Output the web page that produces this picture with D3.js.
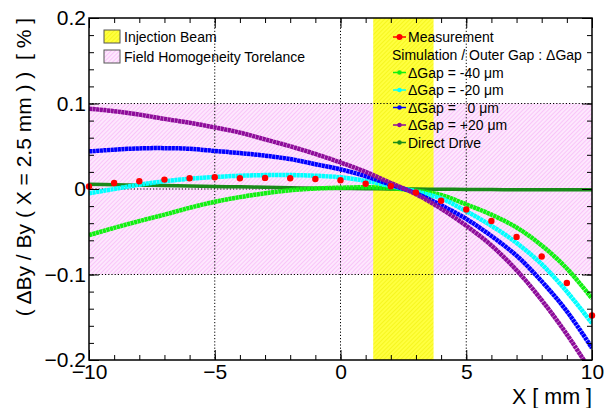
<!DOCTYPE html>
<html><head><meta charset="utf-8">
<script src="https://cdn.jsdelivr.net/npm/d3@7"></script>
<style>
html,body{margin:0;padding:0;background:#fff;}
svg{display:block;font-family:"Liberation Sans",Arial,Helvetica,sans-serif;}
text{white-space:pre;}
</style></head>
<body>
<script>
// ---- data ----
const xs = [-10,-9,-8,-7,-6,-5,-4,-3,-2,-1,0,1,2,3,4,5,6,7,8,9,10];
const measurement = [0.003,0.007,0.009,0.011,0.0125,0.0137,0.0125,0.013,0.0125,0.0117,0.0102,0.0062,0.0032,-0.004,-0.0137,-0.024,-0.0374,-0.056,-0.079,-0.110,-0.148];
const gapM40 = [-0.054,-0.0455,-0.0375,-0.030,-0.022,-0.015,-0.0095,-0.005,-0.0015,0.0005,0.0015,0.002,0.001,-0.002,-0.007,-0.018,-0.030,-0.045,-0.066,-0.093,-0.128];
const gapM20 = [-0.005,0.0,0.005,0.009,0.012,0.014,0.0155,0.0163,0.0163,0.0155,0.0137,0.0095,0.0035,-0.003,-0.011,-0.026,-0.043,-0.063,-0.088,-0.120,-0.157];
const gap0 = [0.044,0.046,0.0475,0.0478,0.047,0.0445,0.042,0.039,0.035,0.029,0.023,0.015,0.005,-0.005,-0.019,-0.035,-0.055,-0.078,-0.108,-0.143,-0.186];
const gapP20 = [0.094,0.091,0.087,0.082,0.0775,0.072,0.066,0.058,0.050,0.041,0.031,0.020,0.007,-0.006,-0.023,-0.043,-0.066,-0.095,-0.130,-0.170,-0.215];
const directDrive = [0.0055,0.005,0.0045,0.004,0.0035,0.003,0.0025,0.002,0.0015,0.001,0.0006,0.0003,0.0001,-0.0001,-0.0003,-0.0005,-0.0007,-0.0008,-0.0009,-0.001,-0.001];
const beamRange = [1.3, 3.7];
const toleranceRange = [-0.1, 0.1];
const xTicks = [-10,-5,0,5,10];
const xTickLabels = ["\u221210","\u22125","0","5","10"];
const yTicks = [0.2,0.1,0,-0.1,-0.2];
const yTickLabels = ["0.2","0.1","0","\u22120.1","\u22120.2"];
const seriesNames = ["\u0394Gap = -40 \u03bcm","\u0394Gap = -20 \u03bcm","\u0394Gap =   0 \u03bcm","\u0394Gap = +20 \u03bcm","Direct Drive"];
const seriesColors = ["#11f011","#00ffff","#0000ff","#8e0c9a","#1a8a1a"];

// ---- layout ----
const W=604,H=408, L=89, R=592, T=18, B=360;
const x = d3.scaleLinear().domain([-10,10]).range([L,R]);
const y = d3.scaleLinear().domain([-0.2,0.2]).range([B,T]);
const svg = d3.select("body").append("svg").attr("width",W).attr("height",H);
const defs = svg.append("defs");
const pPink = defs.append("pattern").attr("id","pink").attr("patternUnits","userSpaceOnUse").attr("width",3).attr("height",3).attr("patternTransform","rotate(45)");
pPink.append("rect").attr("width",3).attr("height",3).attr("fill","#fde8fd");
pPink.append("line").attr("x1",0).attr("y1",0).attr("x2",0).attr("y2",3).attr("stroke","#f5a0f5").attr("stroke-width",1);
const pY = defs.append("pattern").attr("id","yel").attr("patternUnits","userSpaceOnUse").attr("width",3).attr("height",3).attr("patternTransform","rotate(45)");
pY.append("rect").attr("width",3).attr("height",3).attr("fill","#ffff40");
pY.append("line").attr("x1",0).attr("y1",0).attr("x2",0).attr("y2",3).attr("stroke","#eeee00").attr("stroke-width",1);
defs.append("clipPath").attr("id","clip").append("rect").attr("x",L).attr("y",T).attr("width",R-L).attr("height",B-T);

// bands
svg.append("rect").attr("x",L).attr("width",R-L).attr("y",y(toleranceRange[1])).attr("height",y(toleranceRange[0])-y(toleranceRange[1])).attr("fill","url(#pink)");
svg.append("rect").attr("x",x(beamRange[0])).attr("width",x(beamRange[1])-x(beamRange[0])).attr("y",T).attr("height",B-T).attr("fill","url(#yel)");

// grid
const grid = svg.append("g").attr("stroke","#000").attr("stroke-width",1).attr("stroke-dasharray","1.2,2");
[-5,0,5].forEach(v=>grid.append("line").attr("x1",x(v)).attr("x2",x(v)).attr("y1",T).attr("y2",B));
[0.1,0,-0.1].forEach(v=>grid.append("line").attr("y1",y(v)).attr("y2",y(v)).attr("x1",L).attr("x2",R));

// curves
const plot = svg.append("g").attr("clip-path","url(#clip)");
const line = d3.line().x((d,i)=>x(xs[i])).y(d=>y(d)).curve(d3.curveCatmullRom);
const sims = [directDrive,gapM40,gapM20,gap0,gapP20];
const simCols = [seriesColors[4],seriesColors[0],seriesColors[1],seriesColors[2],seriesColors[3]];
const simW = [3.5,4.5,4.5,4.5,4.5];
sims.forEach((s,k)=>plot.append("path").attr("d",line(s)).attr("fill","none").attr("stroke",simCols[k]).attr("stroke-width",simW[k]).attr("stroke-dasharray",k===0?null:"3.2,0.4"));
svg.append("g").selectAll("circle").data(measurement).enter().append("circle").attr("cx",(d,i)=>x(xs[i])).attr("cy",d=>y(d)).attr("r",3.2).attr("fill","#ff0000");

// axes
function ax(gen, tr, vals, size, fmt, pad){
  const g = svg.append("g").attr("transform",tr).call(gen.tickValues(vals).tickSize(size).tickPadding(pad||4).tickFormat(fmt));
  g.select(".domain").remove();
  g.selectAll(".tick line").attr("stroke","#000").attr("stroke-width",1);
  return g;
}
const xMinor = d3.range(-10,11,1), yMinor = d3.range(-10,11,1).map(v=>v*0.02);
const gx = ax(d3.axisBottom(x),`translate(0,${B})`,xTicks,-10,(d,i)=>xTickLabels[i],4);
gx.selectAll("text").attr("font-size","21px").attr("fill","#000").attr("font-family","Liberation Sans, Arial, sans-serif").attr("dy","0.71em");
ax(d3.axisBottom(x),`translate(0,${B})`,xMinor,-5,()=>"");
ax(d3.axisTop(x),`translate(0,${T})`,xTicks,-10,()=>"");
ax(d3.axisTop(x),`translate(0,${T})`,xMinor,-5,()=>"");
const gy = ax(d3.axisLeft(y),`translate(${L},0)`,yTicks,-10,(d,i)=>yTickLabels[i]);
gy.selectAll("text").attr("font-size","21px").attr("fill","#000").attr("font-family","Liberation Sans, Arial, sans-serif").attr("x",-3);
ax(d3.axisLeft(y),`translate(${L},0)`,yMinor,-5,()=>"");
ax(d3.axisRight(y),`translate(${R},0)`,yTicks,-10,()=>"");
ax(d3.axisRight(y),`translate(${R},0)`,yMinor,-5,()=>"");
svg.append("rect").attr("x",L).attr("y",T).attr("width",R-L).attr("height",B-T).attr("fill","none").attr("stroke","#000").attr("stroke-width",1.5);

// titles
svg.append("text").attr("x",R).attr("y",404).attr("text-anchor","end").attr("font-size","21.5px").text("X [ mm ]");
svg.append("text").attr("transform",`translate(31,${T}) rotate(-90)`).attr("text-anchor","end").attr("font-size","21px").text("( \u0394By / By ( X = 2.5 mm ) )  [ % ]");

// legend 1
const lg1 = svg.append("g").attr("font-size","14px");
[["url(#yel)","Injection Beam",30],["url(#pink)","Field Homogeneity Torelance",50]].forEach(([f,t,yy])=>{
  lg1.append("rect").attr("x",104).attr("y",yy).attr("width",16).attr("height",13).attr("fill",f).attr("stroke","#555").attr("stroke-width",1);
  lg1.append("text").attr("x",124).attr("y",yy+11.5).text(t);
});
// legend 2
const lg2 = svg.append("g").attr("font-size","14px");
const rowY = [37,55,72.5,90,107.5,125,142.5];
lg2.append("line").attr("x1",393).attr("x2",406).attr("y1",rowY[0]).attr("y2",rowY[0]).attr("stroke","#ff0000").attr("stroke-width",1.5);
lg2.append("circle").attr("cx",399.5).attr("cy",rowY[0]).attr("r",3).attr("fill","#ff0000");
lg2.append("text").attr("x",408).attr("y",rowY[0]+5).text("Measurement");
lg2.append("text").attr("x",392).attr("y",rowY[1]+5).text("Simulation / Outer Gap : \u0394Gap");
seriesNames.forEach((n,i)=>{
  const yy=rowY[i+2];
  lg2.append("line").attr("x1",393).attr("x2",406).attr("y1",yy).attr("y2",yy).attr("stroke",seriesColors[i]).attr("stroke-width",1.5);
  lg2.append("circle").attr("cx",399.5).attr("cy",yy).attr("r",2.3).attr("fill",seriesColors[i]);
  lg2.append("text").attr("x",408).attr("y",yy+5).text(n);
});
</script>
</body></html>
